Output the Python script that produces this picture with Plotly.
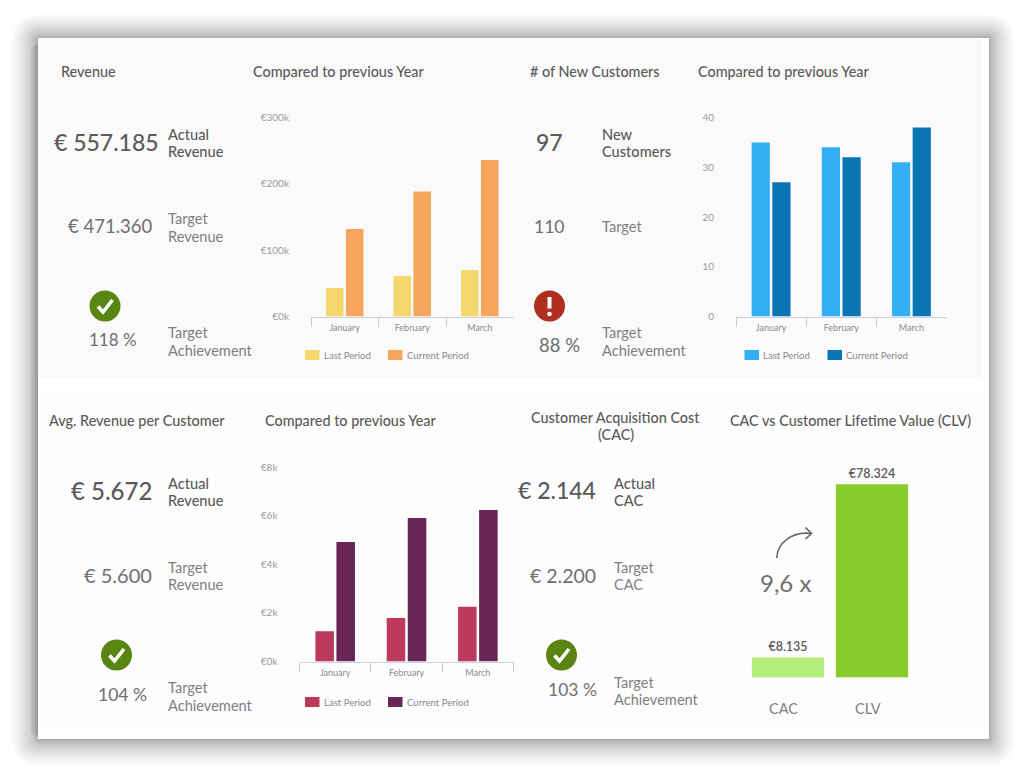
import plotly.graph_objects as go

W, H = 1027, 777
FONT = "Lato"
DARK = "#5a5a5a"
MID = "#6f6f6f"
LIGHT = "#7f7f7f"
TITLE = 14.4
NOTE = 14.6

months = ["January", "February", "March"]
period_names = ["Last Period", "Current Period"]

revenue_last = [43, 61, 70]
revenue_current = [132, 188.5, 236]
revenue_ticks = [0, 100, 200, 300]

customers_last = [35, 34, 31]
customers_current = [27, 32, 38]
customers_ticks = [0, 10, 20, 30, 40]

arpc_last = [1.24, 1.79, 2.25]
arpc_current = [4.92, 5.9, 6.23]
arpc_ticks = [0, 2, 4, 6, 8]

clv_names = ["CAC", "CLV"]
clv_values = [8135, 78324]


def px(x):
    return x / W


def py(y):
    return 1 - y / H


def euro(v):
    return "€" + f"{v:,}".replace(",", ".")


fig = go.Figure()
shapes = []
annotations = []


def label(text, x, y, size=14, color=DARK, anchor="left", weight=400, leading=17.5):
    # Multi-line notes are placed line by line so the spacing stays fixed
    lines = text.split("<br>")
    top = y - leading * (len(lines) - 1) / 2
    for i, line in enumerate(lines):
        annotations.append(dict(
            text=line, x=px(x), y=py(top + i * leading), xref="paper", yref="paper", showarrow=False,
            xanchor=anchor, yanchor="middle", align=anchor, borderpad=0, borderwidth=0,
            font=dict(family=FONT, size=size, color=color, weight=weight),
        ))


def box(x0, y0, x1, y1, fill, opacity=1.0):
    shapes.append(dict(type="rect", xref="paper", yref="paper", x0=px(x0), x1=px(x1),
                       y0=py(y1), y1=py(y0), fillcolor=fill, opacity=opacity,
                       line=dict(width=0), layer="below"))


def rounded(x0, y0, x1, y1, r, opacity):
    a, b, c, d = px(x0), px(x1), py(y0), py(y1)
    rx, ry = px(r), r / H
    d_path = (f"M{a + rx:.5f},{c:.5f} L{b - rx:.5f},{c:.5f} Q{b:.5f},{c:.5f} {b:.5f},{c - ry:.5f} "
              f"L{b:.5f},{d + ry:.5f} Q{b:.5f},{d:.5f} {b - rx:.5f},{d:.5f} "
              f"L{a + rx:.5f},{d:.5f} Q{a:.5f},{d:.5f} {a:.5f},{d + ry:.5f} "
              f"L{a:.5f},{c - ry:.5f} Q{a:.5f},{c:.5f} {a + rx:.5f},{c:.5f} Z")
    shapes.append(dict(type="path", xref="paper", yref="paper", path=d_path, fillcolor="#000000",
                       opacity=opacity, line=dict(width=0), layer="below"))


def outline(d, color, width):
    shapes.append(dict(type="path", xref="paper", yref="paper", path=d,
                       line=dict(color=color, width=width), layer="above"))


def pth(points):
    return "M" + " L".join(f"{px(x):.5f},{py(y):.5f}" for x, y in points)


def circle(cx, cy, r, fill):
    shapes.append(dict(type="circle", xref="paper", yref="paper",
                       x0=px(cx - r), x1=px(cx + r), y0=py(cy + r), y1=py(cy - r),
                       fillcolor=fill, line=dict(width=0), layer="above"))


def check_badge(cx, cy):
    circle(cx, cy, 15.5, "#5a8512")
    outline(pth([(cx - 7, cy + 0.5), (cx - 2, cy + 6), (cx + 7.5, cy - 6)]), "#ffffff", 3.6)


def alert_badge(cx, cy):
    circle(cx, cy, 15.5, "#b02f20")
    outline(pth([(cx, cy - 9), (cx, cy + 2.5)]), "#ffffff", 4)
    circle(cx, cy + 8, 2.3, "#ffffff")


# Soft drop shadow: stacked translucent rounded rectangles that tighten toward the card
STEPS = 30
for i in range(STEPS):
    t = 1 - i / STEPS
    spread = 27 * t ** 1.7
    rounded(38 - spread, 38 - spread * 0.88, 989 + spread * 0.95, 739 + spread, spread + 1, 0.0105)
# A deeper edge along the left side of the card
for i in range(10):
    s = 9 * (1 - i / 10)
    rounded(38 - s, 44, 120, 736, s + 1, 0.011)
box(38, 38, 989, 739, "#ffffff")
box(38, 38, 982, 378, "#fafafa")
box(38, 390, 982, 725, "#fdfdfd")


def add_bars(idx, last, current, colors):
    for name, values, color in zip(period_names, (last, current), colors):
        fig.add_bar(x=months, y=values, name=name, marker=dict(color=color, line=dict(width=0)),
                    xaxis=f"x{idx}", yaxis=f"y{idx}", showlegend=False)


def axes(idx, x0, x1, y_top, y_zero, ymax, ticks, prefix, suffix, standoff):
    xname = f"xaxis{idx}" if idx > 1 else "xaxis"
    yname = f"yaxis{idx}" if idx > 1 else "yaxis"
    fig.update_layout({
        xname: dict(domain=[px(x0), px(x1)], anchor=f"y{idx}", showgrid=False, zeroline=False,
                    showline=True, linecolor="#c9d2de", linewidth=1, ticks="outside", ticklen=9,
                    tickwidth=1, tickcolor="#c9c9c9", tickson="boundaries", fixedrange=True,
                    tickfont=dict(family=FONT, size=9, color="#8a8a8a"), ticklabelstandoff=3),
        yname: dict(domain=[py(y_zero), py(y_top)], anchor=f"x{idx}", range=[0, ymax], showgrid=False,
                    zeroline=False, showline=False, tickvals=ticks,
                    ticktext=[f"{prefix}{t}{suffix}" for t in ticks],
                    tickfont=dict(family=FONT, size=10, color="#9a9a9a"),
                    ticklabelstandoff=standoff, fixedrange=True),
    })


def legend_row(x_first, x_second, y, colors):
    for x, name, color in zip((x_first, x_second), period_names, colors):
        box(x, y - 5, x + 14.5, y + 5, color)
        label(name, x + 18.5, y, size=9.6, color="#8a8a8a")


# Revenue panel
rev_colors = ("#f5d76c", "#f5a65c")
add_bars(1, revenue_last, revenue_current, rev_colors)
axes(1, 311, 513.5, 117.5, 316.5, 300, revenue_ticks, "€", "k", 21)
legend_row(305, 388, 355, rev_colors)
label("Revenue", 60.5, 71, TITLE, DARK, weight=500)
label("Compared to previous Year", 252.5, 71, TITLE, DARK, weight=500)
label("€ 557.185", 158.5, 141.5, 23, DARK, "right", 500)
label("Actual<br>Revenue", 168, 143, NOTE, DARK, weight=500)
label("€ 471.360", 152, 226, 18.5, MID, "right")
label("Target<br>Revenue", 168, 227.5, NOTE, LIGHT)
check_badge(105, 306)
label("118 %", 112.5, 339, 17, MID, "center")
label("Target<br>Achievement", 168, 341.5, NOTE, LIGHT)

# New customers panel
cust_colors = ("#34aef5", "#0a75b5")
add_bars(2, customers_last, customers_current, cust_colors)
axes(2, 736, 946.5, 117.5, 316.5, 40, customers_ticks, "", "", 21)
legend_row(744.5, 827.5, 355, cust_colors)
label("# of New Customers", 530, 71, TITLE, DARK, weight=500)
label("Compared to previous Year", 698, 71, TITLE, DARK, weight=500)
label("97", 549, 141.5, 23, DARK, "center", 500)
label("New<br>Customers", 601.5, 143, NOTE, DARK, weight=500)
label("110", 549, 226, 17.5, MID, "center")
label("Target", 601.5, 227, NOTE, LIGHT)
alert_badge(549.5, 306)
label("88 %", 559, 345, 18.5, MID, "center")
label("Target<br>Achievement", 601.5, 341.5, NOTE, LIGHT)

# Average revenue per customer panel
arpc_colors = ("#bb3a5e", "#6a2558")
add_bars(3, arpc_last, arpc_current, arpc_colors)
axes(3, 299.5, 513.5, 467, 661.5, 8, arpc_ticks, "€", "k", 21)
legend_row(305, 388, 702, arpc_colors)
label("Avg. Revenue per Customer", 48.5, 420, TITLE, DARK, weight=500)
label("Compared to previous Year", 265, 420, TITLE, DARK, weight=500)
label("€ 5.672", 151.5, 490, 24, DARK, "right", 500)
label("Actual<br>Revenue", 168, 492, NOTE, DARK, weight=500)
label("€ 5.600", 151.5, 575, 20, MID, "right")
label("Target<br>Revenue", 168, 576, NOTE, LIGHT)
check_badge(116.5, 655)
label("104 %", 122, 694, 17.5, MID, "center")
label("Target<br>Achievement", 168, 696.5, NOTE, LIGHT)

# CAC versus CLV panel
fig.add_bar(x=clv_names, y=clv_values, marker=dict(color=["#b2ee7a", "#8acb2c"], line=dict(width=0)),
            text=[euro(v) for v in clv_values], textposition="outside", cliponaxis=False,
            textfont=dict(family=FONT, size=12.5, color=DARK, weight=600),
            xaxis="x4", yaxis="y4", showlegend=False, width=0.86)
fig.update_layout(
    xaxis4=dict(domain=[px(746), px(914)], anchor="y4", showline=False, showgrid=False, zeroline=False,
                showticklabels=False, ticks="", fixedrange=True),
    yaxis4=dict(domain=[py(677.5), py(480)], anchor="x4", range=[0, 80000], visible=False, fixedrange=True),
)
label("Customer Acquisition Cost<br>(CAC)", 615.5, 426, TITLE, DARK, "center", 500)
label("CAC vs Customer Lifetime Value (CLV)", 850, 420, TITLE, DARK, "center", 500)
label("€ 2.144", 596, 490, 23, DARK, "right", 500)
label("Actual<br>CAC", 614, 492, NOTE, DARK, weight=500)
label("€ 2.200", 596, 575, 19.5, MID, "right")
label("Target<br>CAC", 614, 576, NOTE, LIGHT)
check_badge(561.5, 655)
label("103 %", 572, 689.5, 17.5, MID, "center")
label("Target<br>Achievement", 614, 691, NOTE, LIGHT)
label("CAC", 783.5, 708, 14.5, LIGHT, "center")
label("CLV", 868, 708, 14.5, LIGHT, "center")
label("9,6 x", 785, 582, 24, MID, "center")

# Curved arrow above the multiplier
outline(f"M{px(776.7):.5f},{py(558):.5f} C{px(777.5):.5f},{py(543):.5f} {px(792):.5f},{py(531):.5f} {px(811.5):.5f},{py(533.5):.5f}",
        "#666666", 1.6)
outline(pth([(805.5, 527.5), (811.5, 533.5), (805.5, 539)]), "#666666", 1.6)

fig.update_layout(
    width=W, height=H, margin=dict(l=0, r=0, t=0, b=0, pad=0, autoexpand=False),
    paper_bgcolor="#ffffff", plot_bgcolor="rgba(0,0,0,0)",
    barmode="group", bargap=0.41, bargroupgap=0.12,
    font=dict(family=FONT), showlegend=False,
    shapes=shapes, annotations=annotations,
)

fig.write_html("out.html", config={"displayModeBar": False, "responsive": False})
